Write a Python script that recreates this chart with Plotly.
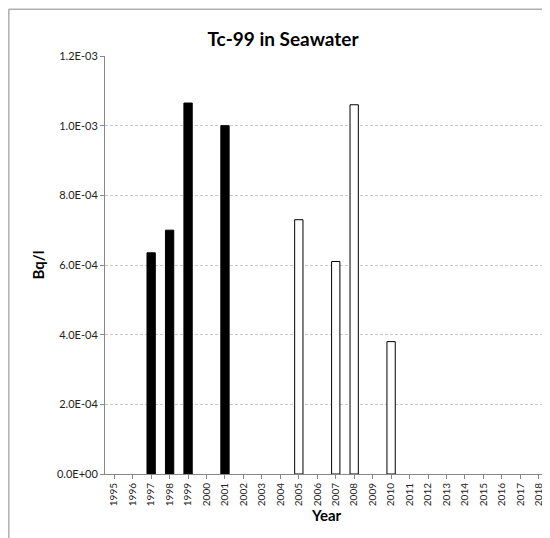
import plotly.graph_objects as go

years = [str(y) for y in range(1995, 2019)]
years_a = ["1997", "1998", "1999", "2001"]
vals_a = [6.35e-4, 7.0e-4, 1.065e-3, 1.0e-3]
years_b = ["2005", "2007", "2008", "2010"]
vals_b = [7.3e-4, 6.1e-4, 1.06e-3, 3.8e-4]
ytick_vals = [0, 2e-4, 4e-4, 6e-4, 8e-4, 1e-3, 1.2e-3]
ytick_text = ["0.0E+00", "2.0E-04", "4.0E-04", "6.0E-04", "8.0E-04", "1.0E-03", "1.2E-03"]

fig = go.Figure()
fig.add_bar(x=years_a, y=vals_a, width=0.45, marker=dict(color="black", line=dict(color="black", width=1)))
fig.add_bar(x=years_b, y=vals_b, width=0.45, marker=dict(color="white", line=dict(color="black", width=1)))
fig.update_layout(
    width=550, height=538, showlegend=False, barmode="overlay",
    paper_bgcolor="white", plot_bgcolor="white",
    font=dict(family="Lato, Liberation Sans, sans-serif", color="#222"),
    title=dict(text="<b>Tc-99 in Seawater</b>", x=0.5, xanchor="center", y=0.955, font=dict(size=19, color="black")),
    margin=dict(l=97, r=10, t=48, b=72, autoexpand=False),
    shapes=[dict(type="rect", xref="paper", yref="paper", x0=-0.217, x1=1.02, y0=-0.17, y1=1.112,
                 line=dict(color="#888", width=1))],
)
fig.update_xaxes(type="category", categoryorder="array", categoryarray=years, tickvals=years,
                 tickangle=-90, tickfont=dict(size=10), showline=True, linecolor="#888",
                 ticks="outside", ticklen=4, tickcolor="#888",
                 title=dict(text="<b>Year</b>", font=dict(size=15, color="black"), standoff=4),
                 range=[-0.5, 23.5])
fig.update_yaxes(range=[0, 1.2e-3], tickvals=ytick_vals, ticktext=ytick_text, tickfont=dict(size=11),
                 showgrid=True, gridcolor="#c8c8c8", griddash="3px,2px", showline=True, linecolor="#888",
                 ticks="outside", ticklen=4, tickcolor="#888", zeroline=False,
                 title=dict(text="<b>Bq/l</b>", font=dict(size=15, color="black"), standoff=8))
fig.write_html("out.html")
